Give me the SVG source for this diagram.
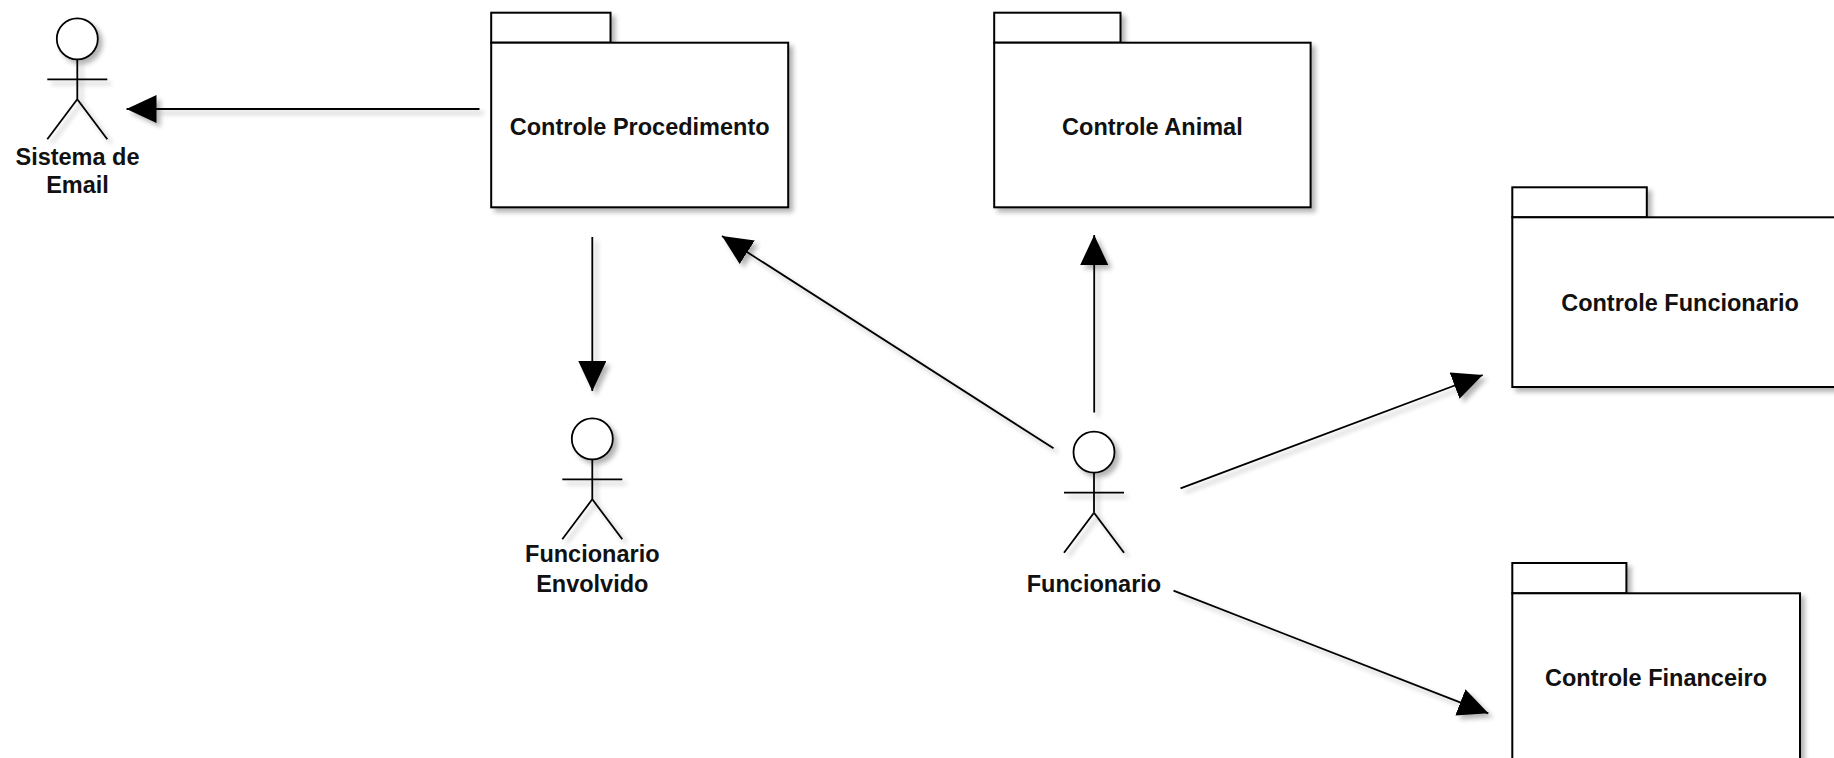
<svg xmlns="http://www.w3.org/2000/svg" xmlns:xlink="http://www.w3.org/1999/xlink" width="1834" height="758" viewBox="0 0 1834 758">
  <style>
    .pkg { fill: #ffffff; stroke: #000000; stroke-width: 2; }
    .actor { fill: none; stroke: #000000; stroke-width: 1.8; }
    .actor .head { fill: #ffffff; }
    .edge { fill: none; stroke: #000000; stroke-width: 1.8; }
    .lbl { font-family: "Liberation Sans", Arial, sans-serif; font-size: 23.5px; font-weight: bold; fill: #111111; text-anchor: middle; }
  </style>
  <defs>
    <filter id="shadow" filterUnits="userSpaceOnUse" x="-50" y="-50" width="1934" height="858">
      <feGaussianBlur in="SourceAlpha" stdDeviation="2.5"/>
      <feOffset dx="4" dy="4" result="off"/>
      <feComponentTransfer><feFuncA type="linear" slope="0.3"/></feComponentTransfer>
      <feMerge><feMergeNode/><feMergeNode in="SourceGraphic"/></feMerge>
    </filter>
    <marker id="arrow" viewBox="0 0 30 28" refX="30" refY="14" markerWidth="30" markerHeight="28" markerUnits="userSpaceOnUse" orient="auto">
      <path d="M0,0 L30,14 L0,28 Z" fill="#000000"/>
    </marker>
    <g id="actorShape" class="actor">
      <circle class="head" cx="0" cy="20.5" r="20.5"/>
      <line x1="0" y1="41" x2="0" y2="81"/>
      <line x1="-30" y1="61" x2="30" y2="61"/>
      <line x1="0" y1="81" x2="-30" y2="121"/>
      <line x1="0" y1="81" x2="30" y2="121"/>
    </g>
  </defs>

  <rect x="0" y="0" width="1834" height="758" fill="#ffffff"/>

  <g id="connectors" filter="url(#shadow)">
    <line class="edge" x1="479.5" y1="109" x2="126.5" y2="109" marker-end="url(#arrow)"/>
    <line class="edge" x1="592.3" y1="237" x2="592.3" y2="391" marker-end="url(#arrow)"/>
    <line class="edge" x1="1053.5" y1="448.3" x2="722" y2="236" marker-end="url(#arrow)"/>
    <line class="edge" x1="1094.2" y1="412.5" x2="1094.2" y2="235" marker-end="url(#arrow)"/>
    <line class="edge" x1="1180.5" y1="488.3" x2="1482.7" y2="375" marker-end="url(#arrow)"/>
    <line class="edge" x1="1173.5" y1="590.7" x2="1488.3" y2="713.3" marker-end="url(#arrow)"/>
  </g>

  <g id="pkg-controle-procedimento">
    <g filter="url(#shadow)">
      <rect class="pkg" x="491.2" y="12.7" width="119.3" height="30"/>
      <rect class="pkg" x="491.2" y="42.7" width="297" height="164.6"/>
    </g>
    <text class="lbl" x="639.7" y="135">Controle Procedimento</text>
  </g>

  <g id="pkg-controle-animal">
    <g filter="url(#shadow)">
      <rect class="pkg" x="994.2" y="12.7" width="126.3" height="30"/>
      <rect class="pkg" x="994.2" y="42.7" width="316.4" height="164.6"/>
    </g>
    <text class="lbl" x="1152.4" y="135">Controle Animal</text>
  </g>

  <g id="pkg-controle-funcionario">
    <g filter="url(#shadow)">
      <rect class="pkg" x="1512.3" y="187.3" width="134.5" height="30"/>
      <rect class="pkg" x="1512.3" y="217.3" width="336" height="169.7"/>
    </g>
    <text class="lbl" x="1680" y="310.5">Controle Funcionario</text>
  </g>

  <g id="pkg-controle-financeiro">
    <g filter="url(#shadow)">
      <rect class="pkg" x="1512.3" y="563" width="114.1" height="30.3"/>
      <rect class="pkg" x="1512.3" y="593.3" width="287.7" height="172"/>
    </g>
    <text class="lbl" x="1656" y="686.3">Controle Financeiro</text>
  </g>

  <g id="actor-sistema-email">
    <use xlink:href="#actorShape" href="#actorShape" transform="translate(77.3,18.3)" filter="url(#shadow)"/>
    <text class="lbl" x="77.5" y="165">Sistema de</text>
    <text class="lbl" x="77.5" y="193.3">Email</text>
  </g>

  <g id="actor-funcionario-envolvido">
    <use xlink:href="#actorShape" href="#actorShape" transform="translate(592.3,418.3)" filter="url(#shadow)"/>
    <text class="lbl" x="592.3" y="562.3">Funcionario</text>
    <text class="lbl" x="592.3" y="592.3">Envolvido</text>
  </g>

  <g id="actor-funcionario">
    <use xlink:href="#actorShape" href="#actorShape" transform="translate(1094,431.7)" filter="url(#shadow)"/>
    <text class="lbl" x="1094" y="591.7">Funcionario</text>
  </g>
</svg>
